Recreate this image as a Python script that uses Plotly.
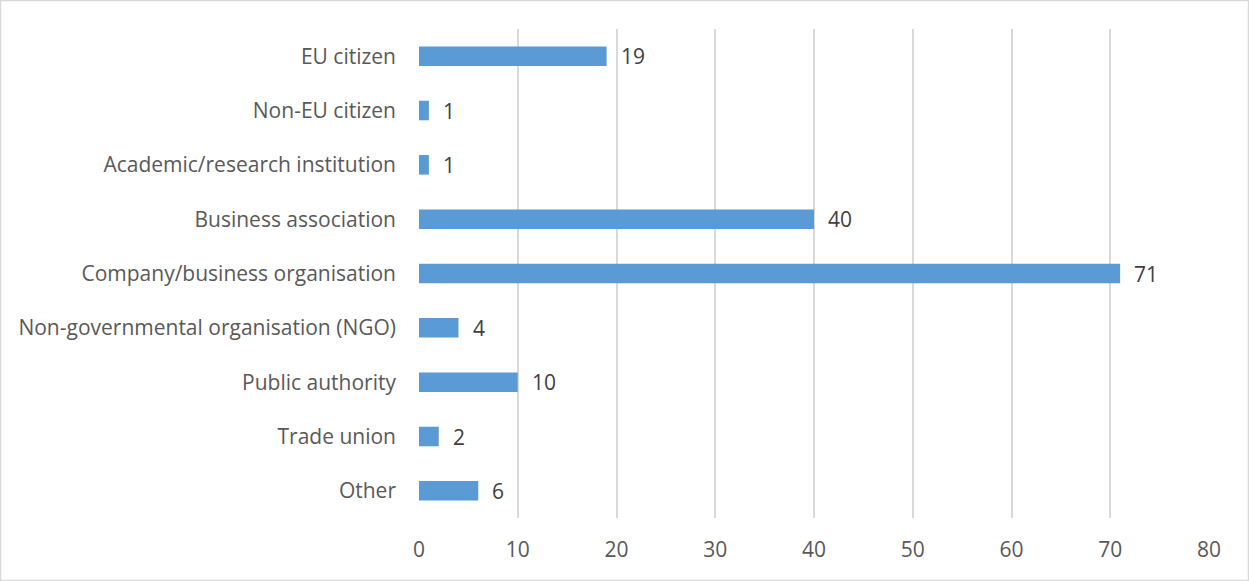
import plotly.graph_objects as go

categories = [
    "EU citizen",
    "Non-EU citizen",
    "Academic/research institution",
    "Business association",
    "Company/business organisation",
    "Non-governmental organisation (NGO)",
    "Public authority",
    "Trade union",
    "Other",
]
counts = [19, 1, 1, 40, 71, 4, 10, 2, 6]
x_ticks = [0, 10, 20, 30, 40, 50, 60, 70, 80]

W, H = 1249, 581
ML, MR, MT, MB = 419, 40, 29, 63
FONT = "Open Sans"
FS = 21

fig = go.Figure()
fig.add_trace(go.Bar(
    x=counts,
    y=categories,
    orientation="h",
    marker=dict(color="#5B9BD5", line=dict(width=0)),
    width=0.36,
    hoverinfo="x+y",
))

# value labels to the right of each bar
for cat, v in zip(categories, counts):
    fig.add_annotation(
        x=v, y=cat, text=str(v), showarrow=False,
        xanchor="left", yanchor="middle", xshift=12,
        font=dict(family=FONT, size=FS, color="#404040"),
    )

# thin light border around the whole chart area
pw, ph = W - ML - MR, H - MT - MB
fig.add_shape(
    type="rect", xref="paper", yref="paper",
    x0=(-ML + 0.5) / pw, x1=(pw + MR - 0.5) / pw,
    y0=(-MB + 0.5) / ph, y1=(ph + MT - 0.5) / ph,
    line=dict(color="#D9D9D9", width=1.5), fillcolor="rgba(0,0,0,0)",
    layer="below",
)

fig.update_layout(
    width=W, height=H,
    margin=dict(l=ML, r=MR, t=MT, b=MB, pad=0),
    paper_bgcolor="white", plot_bgcolor="white",
    showlegend=False,
    font=dict(family=FONT, size=FS, color="#595959"),
    xaxis=dict(
        range=[0, 80], tickvals=x_ticks, ticktext=[str(t) for t in x_ticks],
        showgrid=True, gridcolor="#D9D9D9", gridwidth=1.5,
        zeroline=False, showline=False, ticks="",
        ticklabelstandoff=17,
        tickfont=dict(family=FONT, size=FS, color="#595959"),
        fixedrange=True,
    ),
    yaxis=dict(
        categoryorder="array", categoryarray=categories,
        autorange="reversed",
        showgrid=False, zeroline=False, showline=False, ticks="",
        ticklabelstandoff=22,
        tickfont=dict(family=FONT, size=FS, color="#595959"),
        fixedrange=True,
    ),
)

fig.write_html("out.html")
